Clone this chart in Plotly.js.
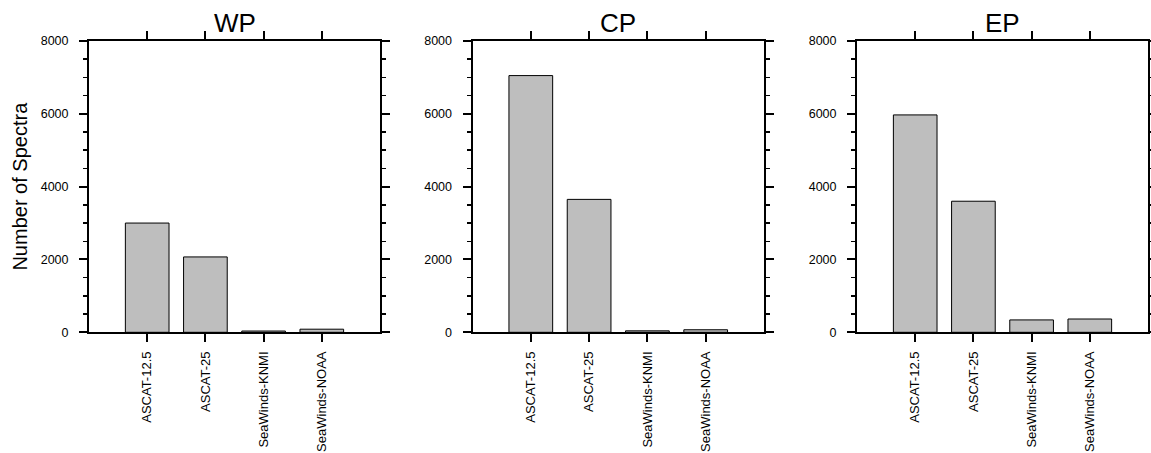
<!DOCTYPE html>
<html>
<head>
<meta charset="utf-8">
<script src="https://cdn.plot.ly/plotly-3.0.1.min.js"></script>
<style>html,body{margin:0;padding:0;background:#fff;}#chart{width:1151px;height:453px;}</style>
</head>
<body>
<div id="chart"></div>
<script>
var categories = ['ASCAT-12.5', 'ASCAT-25', 'SeaWinds-KNMI', 'SeaWinds-NOAA'];
var panelTitles = ['WP', 'CP', 'EP'];
var wpValues = [3000, 2070, 35, 85];
var cpValues = [7050, 3650, 40, 70];
var epValues = [5970, 3600, 340, 365];
var yTickVals = [0, 2000, 4000, 6000, 8000];
var yTickText = ['0', '2000', '4000', '6000', '8000'];
var yAxisTitle = 'Number of Spectra';

var W = 1151, H = 453;
var FONT = 'Liberation Sans, Arial, Helvetica, sans-serif';
var panelsPx = [[89, 380], [472.5, 764], [857, 1148]];
var yTop = 41, yBot = 332.3;
var yDom = [(H - yBot) / H, (H - yTop) / H];

var series = [wpValues, cpValues, epValues];
var traces = [];
var layout = {
  width: W, height: H,
  margin: {l: 0, r: 0, t: 0, b: 0},
  paper_bgcolor: '#fff', plot_bgcolor: '#fff',
  showlegend: false,
  font: {family: FONT, color: '#000'},
  annotations: []
};

for (var i = 0; i < 3; i++) {
  var sfx = i === 0 ? '' : String(i + 1);
  traces.push({
    type: 'bar',
    x: categories,
    y: series[i],
    xaxis: 'x' + sfx,
    yaxis: 'y' + sfx,
    width: 0.75,
    marker: {color: '#bebebe', line: {color: '#000', width: 1}},
    hoverinfo: 'x+y'
  });
  var xa = {
    domain: [panelsPx[i][0] / W, panelsPx[i][1] / W],
    anchor: 'y' + sfx,
    type: 'category',
    range: [-1, 4],
    showgrid: false, zeroline: false,
    showline: true, linecolor: '#000', linewidth: 2,
    mirror: 'allticks',
    ticks: 'outside', ticklen: 8, tickwidth: 2, tickcolor: '#000',
    tickangle: -90,
    tickfont: {family: FONT, size: 13, color: '#000'},
    ticklabelstandoff: 4,
    fixedrange: true
  };
  var ya = {
    domain: yDom,
    anchor: 'x' + sfx,
    range: [0, 8000],
    tickvals: yTickVals, ticktext: yTickText,
    showgrid: false, zeroline: false,
    showline: true, linecolor: '#000', linewidth: 2,
    mirror: 'allticks',
    ticks: 'outside', ticklen: 8, tickwidth: 2, tickcolor: '#000',
    minor: {dtick: 500, tick0: 0, ticks: 'outside', ticklen: 4, tickwidth: 1.5, tickcolor: '#000', showgrid: false},
    tickfont: {family: FONT, size: 12.5, color: '#000'},
    ticklabelstandoff: 8,
    fixedrange: true
  };
  if (i === 0) {
    ya.title = {text: yAxisTitle, font: {family: FONT, size: 20, color: '#000'}, standoff: 8};
  }
  layout['xaxis' + sfx] = xa;
  layout['yaxis' + sfx] = ya;
  layout.annotations.push({
    text: panelTitles[i],
    xref: 'paper', yref: 'paper',
    x: (panelsPx[i][0] + panelsPx[i][1]) / 2 / W,
    y: (H - 40) / H,
    xanchor: 'center', yanchor: 'bottom',
    showarrow: false,
    font: {family: FONT, size: 26, color: '#000'}
  });
}

Plotly.newPlot('chart', traces, layout, {displayModeBar: false, staticPlot: true});
</script>
</body>
</html>
